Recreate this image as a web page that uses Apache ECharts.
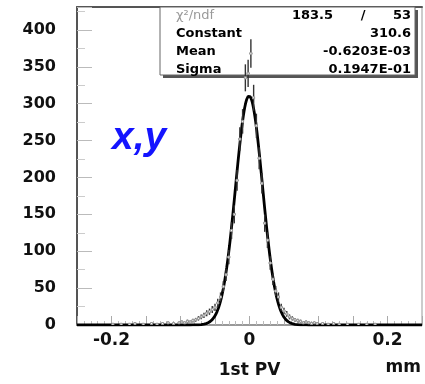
<!DOCTYPE html>
<html>
<head>
<meta charset="utf-8">
<script src="https://cdn.jsdelivr.net/npm/echarts@6/dist/echarts.min.js"></script>
<style>
  html, body { margin: 0; padding: 0; background: #fff; }
  #chart { width: 425px; height: 384px; }
</style>
</head>
<body>
<div id="chart"></div>
<script>
// Residual distribution of the first primary vertex position (x,y), in mm
const binCenters = [
  -0.198, -0.186, -0.174, -0.166, -0.154, -0.142, -0.134, -0.126, -0.118, -0.110,
  -0.102, -0.098, -0.094, -0.090, -0.086, -0.082, -0.078, -0.074, -0.070, -0.066,
  -0.062, -0.058, -0.054, -0.050, -0.046, -0.042, -0.038, -0.034, -0.030, -0.026,
  -0.022, -0.018, -0.014, -0.010, -0.006, -0.002, 0.002, 0.006, 0.010, 0.014,
  0.018, 0.022, 0.026, 0.030, 0.034, 0.038, 0.042, 0.046, 0.050, 0.054,
  0.058, 0.062, 0.066, 0.070, 0.074, 0.078, 0.082, 0.086, 0.090, 0.094,
  0.098, 0.106, 0.114, 0.122, 0.130, 0.142, 0.158, 0.170, 0.182
];
const binCounts = [
  1, 1, 1, 2, 1, 2, 1, 2, 3, 2,
  3, 4, 3, 5, 4, 6, 7, 9, 11, 13,
  16, 18, 21, 24, 30, 38, 52, 68, 92, 128,
  150, 196, 252, 276, 335, 341, 368, 308, 270, 226,
  192, 138, 115, 84, 62, 46, 38, 24, 19, 15,
  11, 9, 7, 6, 5, 3, 4, 3, 2, 3,
  2, 2, 1, 2, 1, 1, 1, 1, 1
];
const binWidth = 0.004;

// Gaussian fit result
const fitChi2 = '183.5';
const fitNdf = '53';
const fitConstant = 310.6;
const fitMean = -0.6203E-03;
const fitSigma = 0.1947E-01;
const fitLabels = ['Constant', 'Mean', 'Sigma'];
const fitValueText = ['310.6', '-0.6203E-03', '0.1947E-01'];

const xTickLabels = [-0.2, 0, 0.2];
const yTickStep = 50;

const histData = binCenters.map((c, i) => [c, binCounts[i]]);

// sample the fitted gaussian across the axis range
const fitCurve = [];
for (let k = -250; k <= 250; k++) {
  const x = k / 1000;
  const z = (x - fitMean) / fitSigma;
  fitCurve.push([x, fitConstant * Math.exp(-0.5 * z * z)]);
}

const FONT = 'DejaVu Sans';

function renderBin(params, api) {
  const x = api.value(0);
  const y = api.value(1);
  const err = Math.sqrt(y);
  const lo = api.coord([x, Math.max(0, y - err)]);
  const hi = api.coord([x, y + err]);
  const l = api.coord([x - binWidth / 2, y]);
  const r = api.coord([x + binWidth / 2, y]);
  const c = api.coord([x, y]);
  const st = { stroke: '#333', lineWidth: 1.4 };
  return {
    type: 'group',
    children: [
      { type: 'line', shape: { x1: lo[0], y1: lo[1], x2: hi[0], y2: hi[1] }, style: st },
      { type: 'line', shape: { x1: l[0], y1: l[1], x2: r[0], y2: r[1] }, style: st },
      { type: 'rect', shape: { x: c[0] - 1, y: c[1] - 1, width: 2, height: 2 },
        style: { fill: '#fff', stroke: '#999', lineWidth: 1 } }
    ]
  };
}

const boxLeft = 160, boxTop = 7, boxW = 255, boxH = 68;
const rowY = [16, 34, 52, 70];
const statsGraphics = [
  { type: 'rect', shape: { x: boxLeft + 3, y: boxTop + 3, width: boxW, height: boxH },
    style: { fill: '#555' }, z: 1 },
  { type: 'rect', shape: { x: boxLeft, y: boxTop, width: boxW, height: boxH },
    style: { fill: '#fff', stroke: '#666', lineWidth: 1 }, z: 1 },
  { type: 'text', x: 176, y: rowY[0], z: 2,
    style: { text: 'χ²/ndf', font: '13px ' + FONT, fill: '#9a9a9a', verticalAlign: 'middle' } },
  { type: 'text', x: 333, y: rowY[0], z: 2,
    style: { text: fitChi2, font: 'bold 13px ' + FONT, fill: '#000', align: 'right', verticalAlign: 'middle' } },
  { type: 'text', x: 363, y: rowY[0], z: 2,
    style: { text: '/', font: 'bold 13px ' + FONT, fill: '#000', align: 'center', verticalAlign: 'middle' } },
  { type: 'text', x: 411, y: rowY[0], z: 2,
    style: { text: fitNdf, font: 'bold 13px ' + FONT, fill: '#000', align: 'right', verticalAlign: 'middle' } }
];
fitLabels.forEach((t, i) => {
  statsGraphics.push({ type: 'text', x: 176, y: rowY[i + 1], z: 2,
    style: { text: t, font: 'bold 13px ' + FONT, fill: '#000', verticalAlign: 'middle' } });
  statsGraphics.push({ type: 'text', x: 411, y: rowY[i + 1], z: 2,
    style: { text: fitValueText[i], font: 'bold 13px ' + FONT, fill: '#000', align: 'right', verticalAlign: 'middle' } });
});
statsGraphics.push(
  { type: 'text', x: 112, y: 138, z: 3,
    style: { text: 'x,y', font: 'italic bold 39px "Liberation Sans"', fill: '#1414ff', verticalAlign: 'middle' } },
  { type: 'text', x: 421, y: 368, z: 3,
    style: { text: 'mm', font: 'bold 17px ' + FONT, fill: '#111', align: 'right', verticalAlign: 'middle' } }
);

const chart = echarts.init(document.getElementById('chart'), null, { renderer: 'canvas' });
chart.setOption({
  animation: false,
  backgroundColor: '#fff',
  grid: { left: 77, right: 1, top: 7, bottom: 53, show: true, borderColor: '#999', borderWidth: 1 },
  xAxis: [{
    type: 'value', min: -0.25, max: 0.25, interval: 0.05,
    name: '1st PV', nameLocation: 'middle', nameGap: 37,
    nameTextStyle: { fontFamily: FONT, fontWeight: 'bold', fontSize: 17, color: '#111' },
    axisLine: { show: true, onZero: false, lineStyle: { color: '#888', width: 1.5 } },
    axisTick: { show: true, inside: true, length: 9, lineStyle: { color: '#aaa', width: 1 } },
    minorTick: { show: true, splitNumber: 5, length: 4, lineStyle: { color: '#bbb' } },
    splitLine: { show: false },
    axisLabel: {
      margin: 7, fontFamily: FONT, fontWeight: 'bold', fontSize: 17, color: '#111',
      formatter: v => {
        const hit = xTickLabels.find(t => Math.abs(t - v) < 1e-6);
        return hit === undefined ? '' : String(hit);
      }
    }
  }, {
    type: 'value', position: 'top', min: -0.25, max: 0.25,
    axisLine: { show: true, onZero: false, lineStyle: { color: '#555', width: 2 } },
    axisTick: { show: false }, axisLabel: { show: false }, splitLine: { show: false }
  }],
  yAxis: {
    type: 'value', min: 0, max: 431, interval: yTickStep, position: 'left',
    axisLine: { show: true, onZero: false, lineStyle: { color: '#555', width: 2 } },
    axisTick: { show: true, inside: true, length: 15, lineStyle: { color: '#bbb', width: 1 } },
    minorTick: { show: true, splitNumber: 2, length: 8, lineStyle: { color: '#ccc' } },
    splitLine: { show: false },
    axisLabel: {
      margin: 21, fontFamily: FONT, fontWeight: 'bold', fontSize: 16, color: '#111',
      formatter: v => (v % yTickStep === 0 ? String(v) : '')
    }
  },
  graphic: statsGraphics,
  series: [
    {
      type: 'line', data: fitCurve, showSymbol: false, smooth: false, z: 4,
      lineStyle: { color: '#000', width: 2.8 }, clip: true
    },
    {
      type: 'custom', data: histData, renderItem: renderBin, z: 10, clip: true
    }
  ]
});
</script>
</body>
</html>
